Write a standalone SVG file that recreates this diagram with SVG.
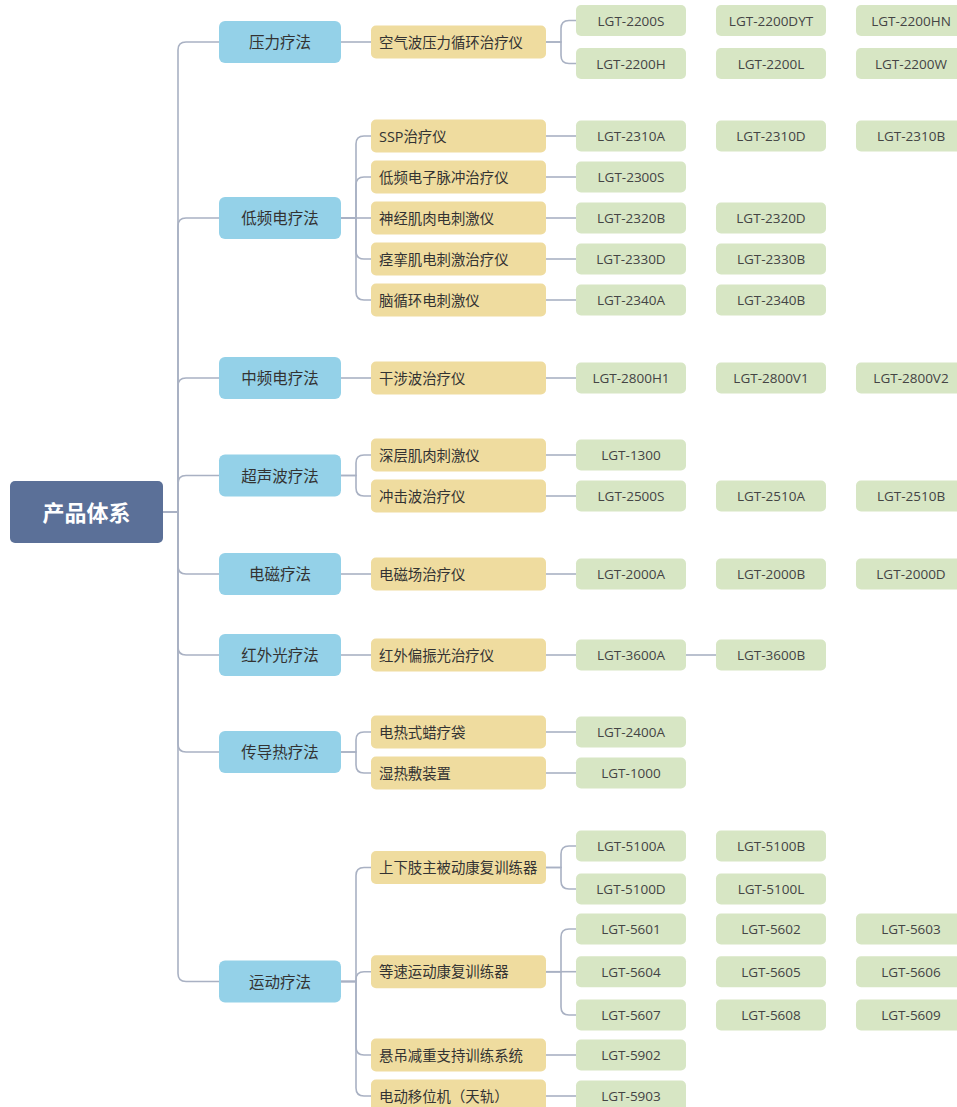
<svg xmlns="http://www.w3.org/2000/svg" width="957" height="1107" viewBox="0 0 957 1107">
<style>
text{font-family:"Open Sans","Noto Sans CJK SC","Noto Sans",sans-serif;dominant-baseline:central}
.root rect{fill:#5b7098}
.root text{fill:#fff;font-size:22px;font-weight:bold;text-anchor:middle}
.l1 rect{fill:#94d1e8}
.l1 text{fill:#333;font-size:15.5px;text-anchor:middle}
.l2 rect{fill:#efdc9f}
.l2 text{fill:#333;font-size:14.4px}
.l3 rect{fill:#d7e6c4}
.l3 text{fill:#444;font-size:13.5px;text-anchor:middle}
#connectors path{fill:none;stroke:#a9b1c3;stroke-width:1.6}
</style>
<rect width="957" height="1107" fill="#fff"/>
<g id="connectors">
<path d="M163,512 H178 V50 Q178,42 186,42 H219"/>
<path d="M163,512 H178 V226 Q178,218 186,218 H219"/>
<path d="M163,512 H178 V386 Q178,378 186,378 H219"/>
<path d="M163,512 H178 V483.5 Q178,475.5 186,475.5 H219"/>
<path d="M163,512 H178 V566 Q178,574 186,574 H219"/>
<path d="M163,512 H178 V647 Q178,655 186,655 H219"/>
<path d="M163,512 H178 V744 Q178,752 186,752 H219"/>
<path d="M163,512 H178 V973.5 Q178,981.5 186,981.5 H219"/>
<path d="M341,42 H371"/>
<path d="M341,218 H356 V144 Q356,136 364,136 H371"/>
<path d="M341,218 H356 V185 Q356,177 364,177 H371"/>
<path d="M341,218 H371"/>
<path d="M341,218 H356 V251 Q356,259 364,259 H371"/>
<path d="M341,218 H356 V292 Q356,300 364,300 H371"/>
<path d="M341,378 H371"/>
<path d="M341,475.5 H356 V463 Q356,455 364,455 H371"/>
<path d="M341,475.5 H356 V488 Q356,496 364,496 H371"/>
<path d="M341,574 H371"/>
<path d="M341,655 H371"/>
<path d="M341,752 H356 V740 Q356,732 364,732 H371"/>
<path d="M341,752 H356 V765 Q356,773 364,773 H371"/>
<path d="M341,981.5 H356 V875.5 Q356,867.5 364,867.5 H371"/>
<path d="M341,981.5 H356 V979.7 Q356,971.7 364,971.7 H371"/>
<path d="M341,981.5 H356 V1047 Q356,1055 364,1055 H371"/>
<path d="M341,981.5 H356 V1088 Q356,1096 364,1096 H371"/>
<path d="M546,42 H561 V28.5 Q561,20.5 569,20.5 H576"/>
<path d="M546,42 H561 V55.5 Q561,63.5 569,63.5 H576"/>
<path d="M546,136 H576"/>
<path d="M546,177 H576"/>
<path d="M546,218 H576"/>
<path d="M546,259 H576"/>
<path d="M546,300 H576"/>
<path d="M546,378 H576"/>
<path d="M546,455 H576"/>
<path d="M546,496 H576"/>
<path d="M546,574 H576"/>
<path d="M546,655 H576"/>
<path d="M686,655 H716"/>
<path d="M546,732 H576"/>
<path d="M546,773 H576"/>
<path d="M546,867.5 H561 V854 Q561,846 569,846 H576"/>
<path d="M546,867.5 H561 V881 Q561,889 569,889 H576"/>
<path d="M546,971.7 H561 V937 Q561,929 569,929 H576"/>
<path d="M546,971.7 H576"/>
<path d="M546,971.7 H561 V1007 Q561,1015 569,1015 H576"/>
<path d="M546,1055 H576"/>
<path d="M546,1096 H576"/>
</g>
<g id="root" class="root"><rect x="10" y="481" width="153" height="62" rx="5"/><text x="86.5" y="512">产品体系</text></g>
<g id="l1-yali" class="l1"><rect x="219" y="21" width="122" height="42" rx="6"/><text x="280" y="42">压力疗法</text></g>
<g id="l1-dipin" class="l1"><rect x="219" y="197" width="122" height="42" rx="6"/><text x="280" y="218">低频电疗法</text></g>
<g id="l1-zhongpin" class="l1"><rect x="219" y="357" width="122" height="42" rx="6"/><text x="280" y="378">中频电疗法</text></g>
<g id="l1-chaosheng" class="l1"><rect x="219" y="454.5" width="122" height="42" rx="6"/><text x="280" y="475.5">超声波疗法</text></g>
<g id="l1-dianci" class="l1"><rect x="219" y="553" width="122" height="42" rx="6"/><text x="280" y="574">电磁疗法</text></g>
<g id="l1-hongwai" class="l1"><rect x="219" y="634" width="122" height="42" rx="6"/><text x="280" y="655">红外光疗法</text></g>
<g id="l1-chuandao" class="l1"><rect x="219" y="731" width="122" height="42" rx="6"/><text x="280" y="752">传导热疗法</text></g>
<g id="l1-yundong" class="l1"><rect x="219" y="960.5" width="122" height="42" rx="6"/><text x="280" y="981.5">运动疗法</text></g>
<g id="l2-1" class="l2"><rect x="371" y="25.5" width="175" height="33" rx="5"/><text x="379" y="42">空气波压力循环治疗仪</text></g>
<g id="l2-2" class="l2"><rect x="371" y="119.5" width="175" height="33" rx="5"/><text x="379" y="136">SSP治疗仪</text></g>
<g id="l2-3" class="l2"><rect x="371" y="160.5" width="175" height="33" rx="5"/><text x="379" y="177">低频电子脉冲治疗仪</text></g>
<g id="l2-4" class="l2"><rect x="371" y="201.5" width="175" height="33" rx="5"/><text x="379" y="218">神经肌肉电刺激仪</text></g>
<g id="l2-5" class="l2"><rect x="371" y="242.5" width="175" height="33" rx="5"/><text x="379" y="259">痉挛肌电刺激治疗仪</text></g>
<g id="l2-6" class="l2"><rect x="371" y="283.5" width="175" height="33" rx="5"/><text x="379" y="300">脑循环电刺激仪</text></g>
<g id="l2-7" class="l2"><rect x="371" y="361.5" width="175" height="33" rx="5"/><text x="379" y="378">干涉波治疗仪</text></g>
<g id="l2-8" class="l2"><rect x="371" y="438.5" width="175" height="33" rx="5"/><text x="379" y="455">深层肌肉刺激仪</text></g>
<g id="l2-9" class="l2"><rect x="371" y="479.5" width="175" height="33" rx="5"/><text x="379" y="496">冲击波治疗仪</text></g>
<g id="l2-10" class="l2"><rect x="371" y="557.5" width="175" height="33" rx="5"/><text x="379" y="574">电磁场治疗仪</text></g>
<g id="l2-11" class="l2"><rect x="371" y="638.5" width="175" height="33" rx="5"/><text x="379" y="655">红外偏振光治疗仪</text></g>
<g id="l2-12" class="l2"><rect x="371" y="715.5" width="175" height="33" rx="5"/><text x="379" y="732">电热式蜡疗袋</text></g>
<g id="l2-13" class="l2"><rect x="371" y="756.5" width="175" height="33" rx="5"/><text x="379" y="773">湿热敷装置</text></g>
<g id="l2-14" class="l2"><rect x="371" y="851" width="175" height="33" rx="5"/><text x="379" y="867.5">上下肢主被动康复训练器</text></g>
<g id="l2-15" class="l2"><rect x="371" y="955.2" width="175" height="33" rx="5"/><text x="379" y="971.7">等速运动康复训练器</text></g>
<g id="l2-16" class="l2"><rect x="371" y="1038.5" width="175" height="33" rx="5"/><text x="379" y="1055">悬吊减重支持训练系统</text></g>
<g id="l2-17" class="l2"><rect x="371" y="1079.5" width="175" height="33" rx="5"/><text x="379" y="1096">电动移位机（天轨）</text></g>
<g id="n2200S" class="l3"><rect x="576" y="5" width="110" height="31" rx="5"/><text x="631" y="20.5">LGT-2200S</text></g>
<g id="n2200DYT" class="l3"><rect x="716" y="5" width="110" height="31" rx="5"/><text x="771" y="20.5">LGT-2200DYT</text></g>
<g id="n2200HN" class="l3"><rect x="856" y="5" width="110" height="31" rx="5"/><text x="911" y="20.5">LGT-2200HN</text></g>
<g id="n2200H" class="l3"><rect x="576" y="48" width="110" height="31" rx="5"/><text x="631" y="63.5">LGT-2200H</text></g>
<g id="n2200L" class="l3"><rect x="716" y="48" width="110" height="31" rx="5"/><text x="771" y="63.5">LGT-2200L</text></g>
<g id="n2200W" class="l3"><rect x="856" y="48" width="110" height="31" rx="5"/><text x="911" y="63.5">LGT-2200W</text></g>
<g id="n2310A" class="l3"><rect x="576" y="120.5" width="110" height="31" rx="5"/><text x="631" y="136">LGT-2310A</text></g>
<g id="n2310D" class="l3"><rect x="716" y="120.5" width="110" height="31" rx="5"/><text x="771" y="136">LGT-2310D</text></g>
<g id="n2310B" class="l3"><rect x="856" y="120.5" width="110" height="31" rx="5"/><text x="911" y="136">LGT-2310B</text></g>
<g id="n2300S" class="l3"><rect x="576" y="161.5" width="110" height="31" rx="5"/><text x="631" y="177">LGT-2300S</text></g>
<g id="n2320B" class="l3"><rect x="576" y="202.5" width="110" height="31" rx="5"/><text x="631" y="218">LGT-2320B</text></g>
<g id="n2320D" class="l3"><rect x="716" y="202.5" width="110" height="31" rx="5"/><text x="771" y="218">LGT-2320D</text></g>
<g id="n2330D" class="l3"><rect x="576" y="243.5" width="110" height="31" rx="5"/><text x="631" y="259">LGT-2330D</text></g>
<g id="n2330B" class="l3"><rect x="716" y="243.5" width="110" height="31" rx="5"/><text x="771" y="259">LGT-2330B</text></g>
<g id="n2340A" class="l3"><rect x="576" y="284.5" width="110" height="31" rx="5"/><text x="631" y="300">LGT-2340A</text></g>
<g id="n2340B" class="l3"><rect x="716" y="284.5" width="110" height="31" rx="5"/><text x="771" y="300">LGT-2340B</text></g>
<g id="n2800H1" class="l3"><rect x="576" y="362.5" width="110" height="31" rx="5"/><text x="631" y="378">LGT-2800H1</text></g>
<g id="n2800V1" class="l3"><rect x="716" y="362.5" width="110" height="31" rx="5"/><text x="771" y="378">LGT-2800V1</text></g>
<g id="n2800V2" class="l3"><rect x="856" y="362.5" width="110" height="31" rx="5"/><text x="911" y="378">LGT-2800V2</text></g>
<g id="n1300" class="l3"><rect x="576" y="439.5" width="110" height="31" rx="5"/><text x="631" y="455">LGT-1300</text></g>
<g id="n2500S" class="l3"><rect x="576" y="480.5" width="110" height="31" rx="5"/><text x="631" y="496">LGT-2500S</text></g>
<g id="n2510A" class="l3"><rect x="716" y="480.5" width="110" height="31" rx="5"/><text x="771" y="496">LGT-2510A</text></g>
<g id="n2510B" class="l3"><rect x="856" y="480.5" width="110" height="31" rx="5"/><text x="911" y="496">LGT-2510B</text></g>
<g id="n2000A" class="l3"><rect x="576" y="558.5" width="110" height="31" rx="5"/><text x="631" y="574">LGT-2000A</text></g>
<g id="n2000B" class="l3"><rect x="716" y="558.5" width="110" height="31" rx="5"/><text x="771" y="574">LGT-2000B</text></g>
<g id="n2000D" class="l3"><rect x="856" y="558.5" width="110" height="31" rx="5"/><text x="911" y="574">LGT-2000D</text></g>
<g id="n3600A" class="l3"><rect x="576" y="639.5" width="110" height="31" rx="5"/><text x="631" y="655">LGT-3600A</text></g>
<g id="n3600B" class="l3"><rect x="716" y="639.5" width="110" height="31" rx="5"/><text x="771" y="655">LGT-3600B</text></g>
<g id="n2400A" class="l3"><rect x="576" y="716.5" width="110" height="31" rx="5"/><text x="631" y="732">LGT-2400A</text></g>
<g id="n1000" class="l3"><rect x="576" y="757.5" width="110" height="31" rx="5"/><text x="631" y="773">LGT-1000</text></g>
<g id="n5100A" class="l3"><rect x="576" y="830.5" width="110" height="31" rx="5"/><text x="631" y="846">LGT-5100A</text></g>
<g id="n5100B" class="l3"><rect x="716" y="830.5" width="110" height="31" rx="5"/><text x="771" y="846">LGT-5100B</text></g>
<g id="n5100D" class="l3"><rect x="576" y="873.5" width="110" height="31" rx="5"/><text x="631" y="889">LGT-5100D</text></g>
<g id="n5100L" class="l3"><rect x="716" y="873.5" width="110" height="31" rx="5"/><text x="771" y="889">LGT-5100L</text></g>
<g id="n5601" class="l3"><rect x="576" y="913.5" width="110" height="31" rx="5"/><text x="631" y="929">LGT-5601</text></g>
<g id="n5602" class="l3"><rect x="716" y="913.5" width="110" height="31" rx="5"/><text x="771" y="929">LGT-5602</text></g>
<g id="n5603" class="l3"><rect x="856" y="913.5" width="110" height="31" rx="5"/><text x="911" y="929">LGT-5603</text></g>
<g id="n5604" class="l3"><rect x="576" y="956.2" width="110" height="31" rx="5"/><text x="631" y="971.7">LGT-5604</text></g>
<g id="n5605" class="l3"><rect x="716" y="956.2" width="110" height="31" rx="5"/><text x="771" y="971.7">LGT-5605</text></g>
<g id="n5606" class="l3"><rect x="856" y="956.2" width="110" height="31" rx="5"/><text x="911" y="971.7">LGT-5606</text></g>
<g id="n5607" class="l3"><rect x="576" y="999.5" width="110" height="31" rx="5"/><text x="631" y="1015">LGT-5607</text></g>
<g id="n5608" class="l3"><rect x="716" y="999.5" width="110" height="31" rx="5"/><text x="771" y="1015">LGT-5608</text></g>
<g id="n5609" class="l3"><rect x="856" y="999.5" width="110" height="31" rx="5"/><text x="911" y="1015">LGT-5609</text></g>
<g id="n5902" class="l3"><rect x="576" y="1039.5" width="110" height="31" rx="5"/><text x="631" y="1055">LGT-5902</text></g>
<g id="n5903" class="l3"><rect x="576" y="1080.5" width="110" height="31" rx="5"/><text x="631" y="1096">LGT-5903</text></g>
</svg>
